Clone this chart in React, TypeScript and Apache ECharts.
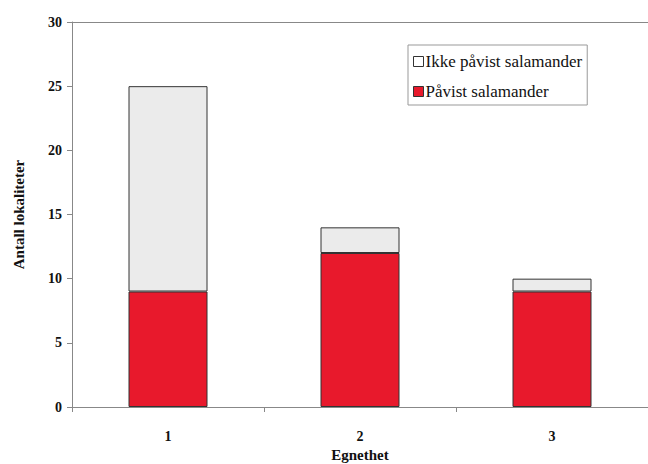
import React, { useEffect, useRef } from "react";
import * as echarts from "echarts";

const categories = ["1", "2", "3"];
const pavist = [9, 12, 9];
const ikkePavist = [16, 2, 1];
const yTicks = { min: 0, max: 30, interval: 5 };
const seriesNames = ["Ikke påvist salamander", "Påvist salamander"];

const FONT = "Liberation Serif";

export default function App() {
  const ref = useRef<HTMLDivElement>(null);
  useEffect(() => {
    if (!ref.current) return;
    const chart = echarts.init(ref.current, undefined, { renderer: "svg" });
    chart.setOption({
      animation: false,
      backgroundColor: "#ffffff",
      textStyle: { fontFamily: FONT },
      grid: { left: 72, top: 22, right: 0, bottom: 57, outerBoundsMode: "none", containLabel: false },
      legend: {
        orient: "vertical",
        left: 408,
        top: 45,
        padding: [8, 5, 5, 5],
        itemGap: 13,
        itemWidth: 10,
        itemHeight: 10,
        icon: "rect",
        borderColor: "#999",
        borderWidth: 1,
        backgroundColor: "#fff",
        itemStyle: { borderColor: "#333", borderWidth: 1 },
        textStyle: { fontFamily: FONT, fontSize: 17, color: "#111", padding: [0, 0, 0, -3] },
        data: [
          { name: seriesNames[0], itemStyle: { color: "#ffffff", borderColor: "#333", borderWidth: 1 } },
          { name: seriesNames[1], itemStyle: { color: "#e8192c", borderColor: "#333", borderWidth: 1 } },
        ],
      },
      xAxis: [
        {
          type: "category",
          data: categories,
          name: "Egnethet",
          nameLocation: "middle",
          nameGap: 40,
          nameTextStyle: { fontFamily: FONT, fontSize: 15, fontWeight: "bold", color: "#111" },
          axisLine: { lineStyle: { color: "#888", width: 1 } },
          axisTick: { show: true, length: 5, lineStyle: { color: "#888" } },
          axisLabel: { fontFamily: FONT, fontSize: 14, fontWeight: "bold", color: "#111", margin: 22 },
        },
        {
          type: "category",
          data: categories,
          position: "top",
          axisLine: { lineStyle: { color: "#888", width: 1 } },
          axisTick: { show: false },
          axisLabel: { show: false },
        },
      ],
      yAxis: {
        type: "value",
        min: yTicks.min,
        max: yTicks.max,
        interval: yTicks.interval,
        name: "Antall lokaliteter",
        nameLocation: "middle",
        nameGap: 46,
        nameRotate: 90,
        nameTextStyle: { fontFamily: FONT, fontSize: 15, fontWeight: "bold", color: "#111" },
        axisLine: { show: true, lineStyle: { color: "#888", width: 1 } },
        axisTick: { show: true, length: 5, lineStyle: { color: "#888" } },
        splitLine: { show: false },
        axisLabel: { fontFamily: FONT, fontSize: 14, fontWeight: "bold", color: "#111", margin: 10 },
      },
      series: [
        {
          name: seriesNames[1],
          type: "bar",
          stack: "total",
          data: pavist,
          barWidth: 79,
          itemStyle: { color: "#e8192c", borderColor: "#333", borderWidth: 1 },
        },
        {
          name: seriesNames[0],
          type: "bar",
          stack: "total",
          data: ikkePavist,
          barWidth: 79,
          itemStyle: { color: "#ebebeb", borderColor: "#333", borderWidth: 1 },
        },
      ],
    });
    return () => chart.dispose();
  }, []);
  return (
    <div
      ref={ref}
      style={{ position: "absolute", left: 0, top: 0, width: 648, height: 464 }}
    />
  );
}
